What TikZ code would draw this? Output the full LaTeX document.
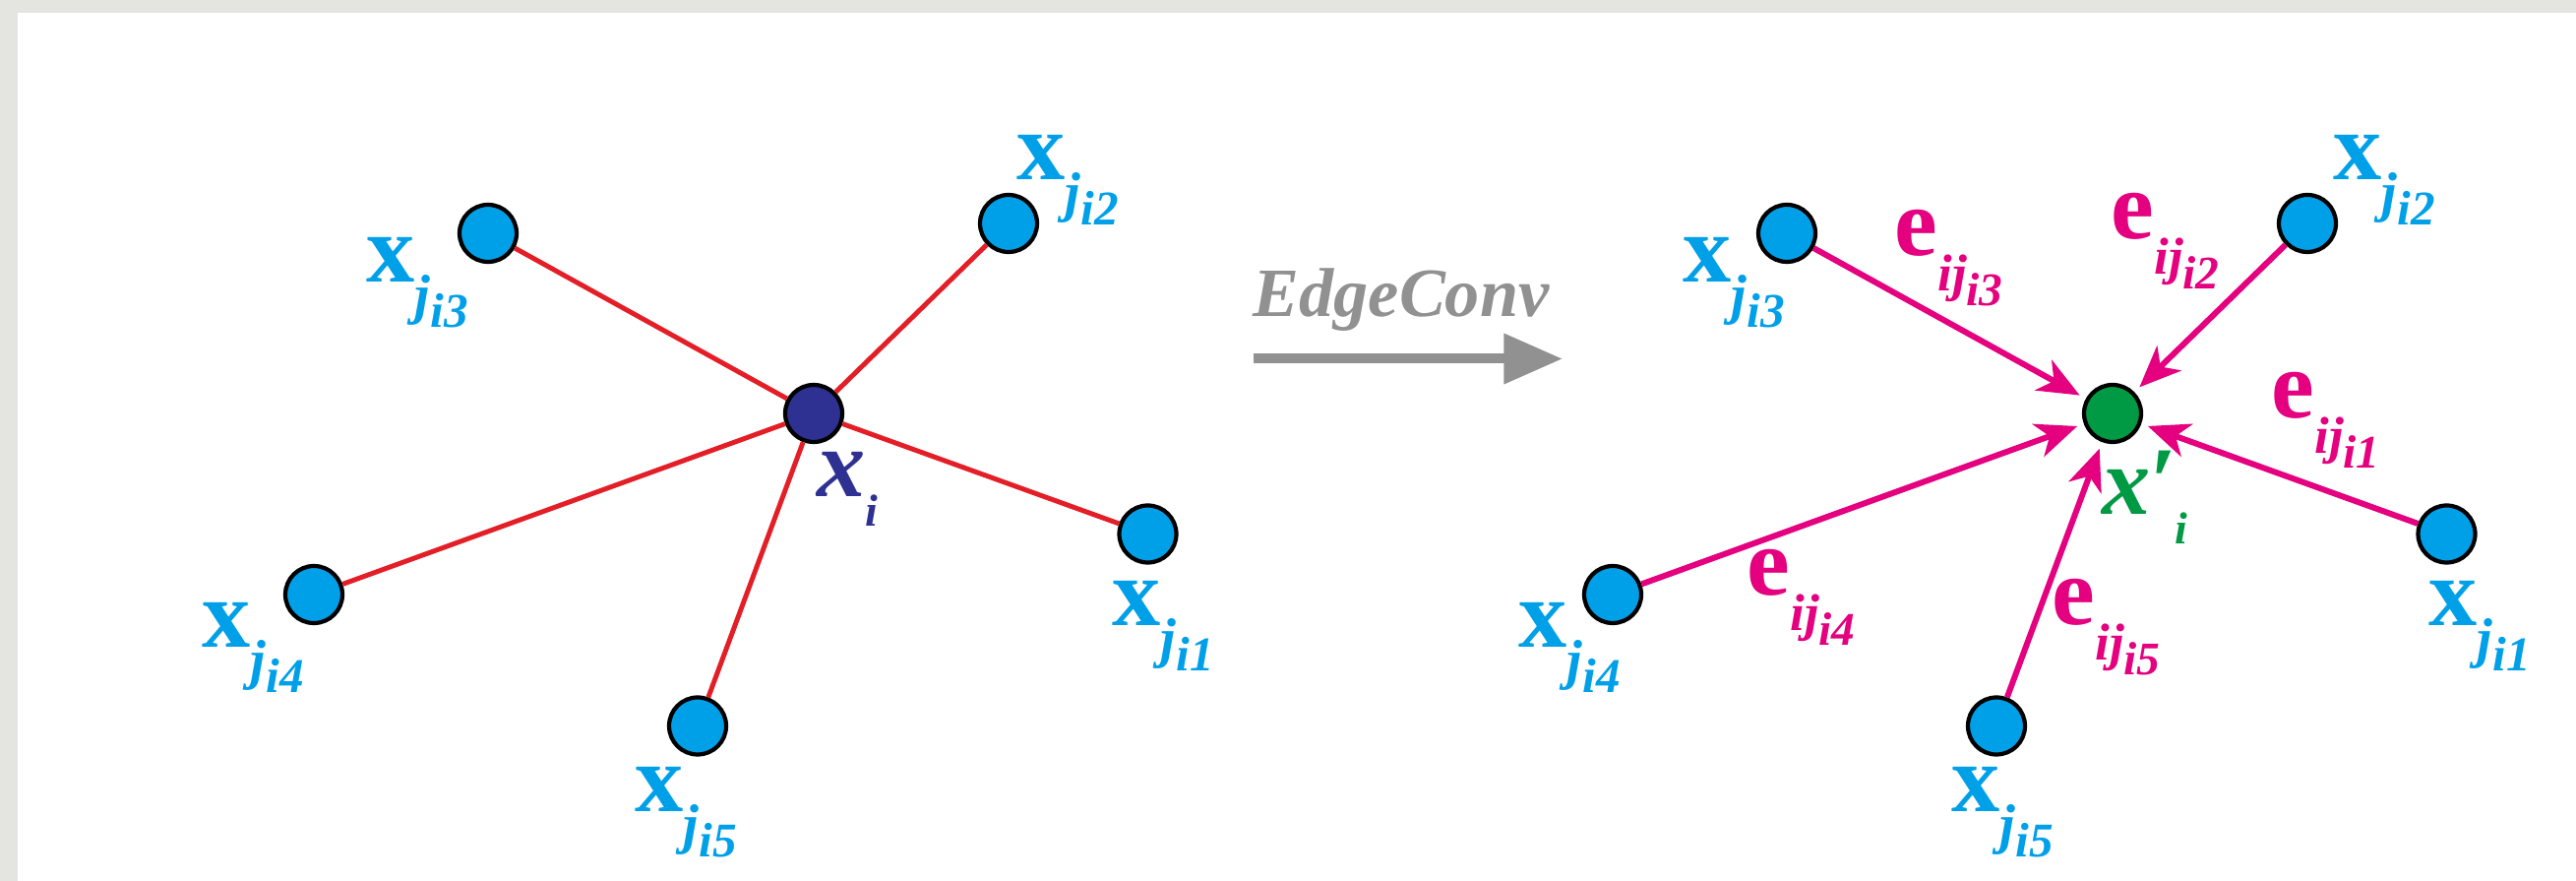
\documentclass[tikz,border=0pt]{standalone}
\usepackage{fontspec}
\setmainfont{Liberation Serif}
\usetikzlibrary{arrows.meta}

\definecolor{ptblue}{RGB}{0,160,233}
\definecolor{ctnavy}{RGB}{46,49,146}
\definecolor{ctgreen}{RGB}{0,153,68}
\definecolor{edred}{RGB}{228,30,38}
\definecolor{edpink}{RGB}{228,0,127}
\definecolor{opgray}{RGB}{145,145,145}
\definecolor{framegray}{RGB}{228,228,224}

\newcommand{\xlab}[1]{\textbf{x}\raisebox{-9pt}{\fontsize{16}{16}\selectfont\bfseries\itshape j\raisebox{-4pt}{\fontsize{14}{14}\selectfont i#1}}}
\newcommand{\elab}[1]{\textbf{e}\raisebox{-10pt}{\fontsize{15}{15}\selectfont\bfseries\itshape ij\raisebox{-4.5pt}{\fontsize{13.5}{13.5}\selectfont i#1}}}
\newcommand{\xcen}{\textbf{\textit{x}}\raisebox{-8.5pt}{\fontsize{13}{13}\selectfont\bfseries\itshape i}}
\newcommand{\xout}{\textbf{\textit{x}′}\kern-1pt\raisebox{-8.5pt}{\fontsize{13}{13}\selectfont\bfseries\itshape i}}

\begin{document}
\begin{tikzpicture}[
    nd/.style={draw, line width=1.2pt, circle, fill=ptblue, minimum size=0.58cm, inner sep=0pt},
    tx/.style={anchor=base west, inner sep=0pt, font=\fontsize{28}{32}\selectfont},
    ln/.style={edred, line width=1.4pt},
    arr/.style={-{Stealth[length=12pt,width=10pt,inset=3.5pt]}, edpink, line width=1.7pt, shorten >=2pt}]
  % background with the grey edge
  \fill[framegray] (0,0) rectangle (26.18,8.95);
  \fill[white] (0.18,0) rectangle (26.18,8.82);
  % left: x_i and its neighbours
  \node[nd, fill=ctnavy] (c) at (8.27,4.75) {};
  \node[nd] (n1) at (11.665,3.525) {}; \node[nd] (n2) at (10.25,6.68) {};
  \node[nd] (n3) at (4.96,6.58) {};    \node[nd] (n4) at (3.19,2.91) {};
  \node[nd] (n5) at (7.09,1.575) {};
  \draw[ln](c)--(n1);\draw[ln](c)--(n2);\draw[ln](c)--(n3);
  \draw[ln](c)--(n4);\draw[ln](c)--(n5);
  \node[tx, text=ptblue] (t1) at (11.30,2.595) {\xlab{1}};
  \node[tx, text=ptblue] (t2) at (10.33,7.12) {\xlab{2}};
  \node[tx, text=ptblue] (t3) at (3.72,6.08) {\xlab{3}};
  \node[tx, text=ptblue] (t4) at (2.05,2.37) {\xlab{4}};
  \node[tx, text=ptblue] (t5) at (6.45,0.70) {\xlab{5}};
  \node[tx, text=ctnavy] (tc) at (8.30,3.90) {\xcen};
  % EdgeConv
  \node[anchor=base west, inner sep=0pt, text=opgray, font=\fontsize{20}{24}\selectfont\bfseries\itshape] (op) at (12.73,5.73) {EdgeConv};
  \coordinate (a1) at (12.74,5.305); \coordinate (a2) at (15.88,5.305);
  \draw[opgray, line width=2.85pt, -{Triangle[length=17pt,width=14pt]}] (a1)--(a2);
  % right: edge features into x_i'
  \node[nd, fill=ctgreen] (c2) at (21.47,4.75) {};
  \node[nd] (m1) at (24.865,3.525) {}; \node[nd] (m2) at (23.45,6.68) {};
  \node[nd] (m3) at (18.16,6.58) {};   \node[nd] (m4) at (16.39,2.91) {};
  \node[nd] (m5) at (20.29,1.575) {};
  \draw[arr](m1)--(c2);\draw[arr](m2)--(c2);\draw[arr](m3)--(c2);
  \draw[arr](m4)--(c2);\draw[arr](m5)--(c2);
  \node[tx, text=ptblue] (s1) at (24.68,2.595) {\xlab{1}};
  \node[tx, text=ptblue] (s2) at (23.71,7.12) {\xlab{2}};
  \node[tx, text=ptblue] (s3) at (17.10,6.08) {\xlab{3}};
  \node[tx, text=ptblue] (s4) at (15.43,2.37) {\xlab{4}};
  \node[tx, text=ptblue] (s5) at (19.83,0.70) {\xlab{5}};
  \node[tx, text=ctgreen] (tc2) at (21.36,3.72) {\xout};
  \node[tx, text=edpink] (e1) at (23.08,4.70) {\elab{1}};
  \node[tx, text=edpink] (e2) at (21.45,6.52) {\elab{2}};
  \node[tx, text=edpink] (e3) at (19.25,6.35) {\elab{3}};
  \node[tx, text=edpink] (e4) at (17.75,2.90) {\elab{4}};
  \node[tx, text=edpink] (e5) at (20.85,2.60) {\elab{5}};
\end{tikzpicture}
\end{document}
